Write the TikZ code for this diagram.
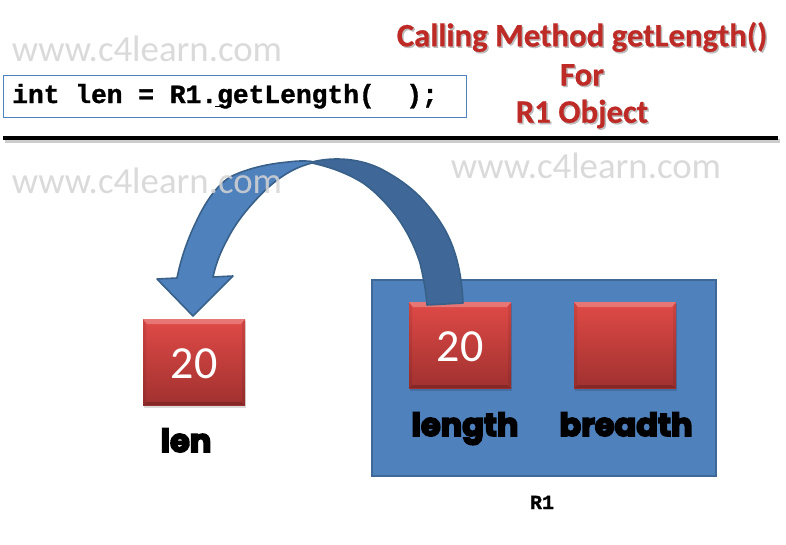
\documentclass[tikz,border=0pt]{standalone}
\usepackage{fontspec}
\setmainfont{Carlito}
\newfontfamily\codefont{Liberation Mono}[UprightFont={* Bold},FakeBold=1.2]
\newfontfamily\heavyfont{Poppins}[UprightFont={* Bold},FakeBold=5]
\newfontfamily\titlefont{Carlito}[UprightFont={* Bold},FakeBold=0.6]
\usetikzlibrary{calc}
\definecolor{objblue}{HTML}{4F81BD}
\definecolor{objedge}{HTML}{3F6797}
\definecolor{darkarrow}{HTML}{3F6797}
\definecolor{arrowedge}{HTML}{386089}
\definecolor{wmgray}{HTML}{D4D4D4}
\definecolor{titlered}{HTML}{BE2A26}
\definecolor{redtop}{HTML}{E04A47}
\definecolor{redbot}{HTML}{A0312F}
\tikzset{
  x=0.75pt,y=-0.75pt,
  watermark/.style={text=wmgray,font=\fontsize{27.6}{30}\selectfont,text opacity=.85,inner sep=0},
  titletext/.style={text=titlered,font=\titlefont\fontsize{24.6}{28}\selectfont,inner sep=0},
  titleglow/.style={text=black!45,text opacity=.55,font=\titlefont\fontsize{24.6}{28}\selectfont,inner sep=0},
  valuetext/.style={text=white,font=\fontsize{34.5}{38}\selectfont,inner sep=0},
  heavylabel/.style={text=black,inner sep=0,font=\heavyfont\fontsize{24}{27}\selectfont},
  smalllabel/.style={text=black,inner sep=0,font=\codefont\fontsize{15}{18}\selectfont},
  codetext/.style={text=black,inner sep=0,font=\codefont\fontsize{19.7}{22}\selectfont},
  redbox/.style={minimum width=76.5pt,minimum height=64.5pt,inner sep=0,outer sep=0,top color=redtop,bottom color=redbot,draw=none},
}
\newcommand{\bevelbox}[4]{% name, centre x, centre y, text
  \fill[black,opacity=.14] (#2-50,#3-41) rectangle (#2+52,#3+46);
  \node[redbox] (#1) at (#2,#3) {};
  \fill[white,opacity=.25] (#1.north west) -- (#1.north east) -- ++(-4,5) -- ($(#1.north west)+(4,5)$) -- cycle;
  \fill[black,opacity=.18] (#1.south west) -- (#1.south east) -- ++(-4,-3) -- ($(#1.south west)+(4,-3)$) -- cycle;
  \fill[black,opacity=.08] (#1.north east) -- (#1.south east) -- ++(-3,-3) -- ($(#1.north east)+(-3,5)$) -- cycle;
  \fill[black,opacity=.08] (#1.north west) -- (#1.south west) -- ++(3,-3) -- ($(#1.north west)+(3,5)$) -- cycle;
  \node[valuetext,anchor=center] at ($(#1)+(0,2)$) {#4};
}
\begin{document}
\begin{tikzpicture}
\useasboundingbox (0,0) rectangle (786,544);
\fill[white] (0,0) rectangle (786,544);
% code box
\node[draw=objblue,line width=0.75pt,minimum width=347pt,minimum height=31.5pt,inner sep=0,outer sep=0,anchor=north west] (codebox) at (3.5,75.5) {};
\node[codetext,anchor=base west] (code) at (12,103) {int len = R1.getLength(\ \ );};
\fill[black] (215,105.5) rectangle (231,106.7);
% rule
\fill[black!50,opacity=.4] (5,139) rectangle (780,143);
\fill[black] (3,136) rectangle (778,140);
% object
\node[draw=objedge,fill=objblue,line width=1.5pt,minimum width=258.5pt,minimum height=147pt,inner sep=0,outer sep=0,anchor=north west] (obj) at (371.5,279.5) {};
\bevelbox{lenbox}{194}{362}{20}
\bevelbox{lengthbox}{460}{345}{20}
\bevelbox{breadthbox}{625}{345}{}
% arrow
\fill[darkarrow,draw=arrowedge,line width=1.2pt,line join=round]
  (312,162) .. controls (320,160) and (328,159) .. (337,159)
  .. controls (356,159) and (372,164) .. (383,170)
  .. controls (398,178) and (412,188) .. (423,200)
  .. controls (434,212) and (444,226) .. (450,240)
  .. controls (458,258) and (462,280) .. (463,303)
  -- (427,305)
  .. controls (426,290) and (423,276) .. (420,263)
  .. controls (415,247) and (407,231) .. (397,217)
  .. controls (387,204) and (376,192) .. (363,183)
  .. controls (347,173) and (330,167) .. (312,163) -- cycle;
\fill[objblue,draw=arrowedge,line width=1.2pt,line join=round]
  (312,161.5) .. controls (304,160.5) and (296,161) .. (288,162)
  .. controls (266,164) and (246,169) .. (230,177)
  .. controls (216,186) and (205,203) .. (197,220)
  .. controls (188,238) and (181,258) .. (177,278)
  -- (157,279) -- (193,316) -- (233,276) -- (213,277)
  .. controls (216,263) and (221,251) .. (227,240)
  .. controls (234,226) and (243,214) .. (253,203)
  .. controls (261,194) and (270,185) .. (280,178)
  .. controls (290,171) and (300,166) .. (312,163) -- cycle;
% watermarks
\node[watermark,anchor=center] (wma) at (147,49) {www.c4learn.com};
\node[watermark,anchor=center] (wmb) at (147,181) {www.c4learn.com};
\node[watermark,anchor=center] (wmc) at (586,166) {www.c4learn.com};
% title
\node[titleglow,anchor=center] at (583.5,38.5) {Calling Method getLength()};
\node[titleglow,anchor=center] at (583.5,76.5) {For};
\node[titleglow,anchor=center] at (583.5,115.5) {R1 Object};
\node[titletext,anchor=center] (ta) at (582,37) {Calling Method getLength()};
\node[titletext,anchor=center] (tb) at (582,75) {For};
\node[titletext,anchor=center] (tc) at (582,114) {R1 Object};
% labels
\node[heavylabel,anchor=base] (lenlabel) at (186,452) {len};
\node[heavylabel,anchor=base] (lengthlabel) at (465,436) {length};
\node[heavylabel,anchor=base] (breadthlabel) at (626,436) {breadth};
\node[smalllabel,anchor=base] (objlabel) at (542,509) {R1};
\end{tikzpicture}
\end{document}
